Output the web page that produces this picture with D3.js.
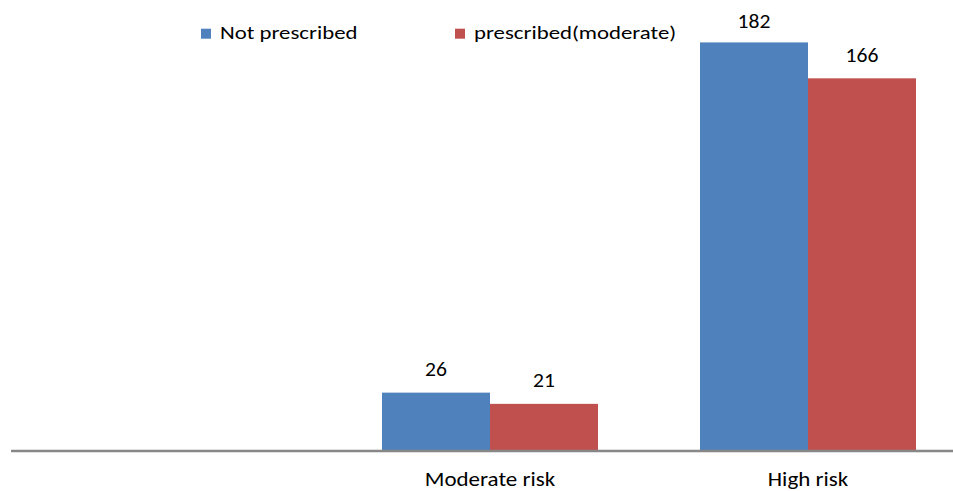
<!DOCTYPE html>
<html>
<head>
<meta charset="utf-8">
<script src="https://cdn.jsdelivr.net/npm/d3@7"></script>
<style>
  html, body { margin: 0; padding: 0; background: #fff; }
  svg { display: block; }
  text { font-family: Carlito, Lato, "Open Sans", sans-serif; fill: #000; }
</style>
</head>
<body>
<svg id="chart" width="953" height="491"></svg>
<script>
// Risk categories (the first group carries no label and no bars)
const categories = ["", "Moderate risk", "High risk"];
const seriesNames = ["Not prescribed", "prescribed(moderate)"];
const notPrescribed = [null, 26, 182];
const prescribedModerate = [null, 21, 166];
const seriesColors = ["#4F81BD", "#C0504D"];
const yMax = 200;

const svg = d3.select("#chart");
const W = 953, H = 491;
const baseY = 451;

const x = d3.scaleBand()
  .domain(categories.map((c, i) => i))
  .range([13, 967])
  .paddingInner(0.3208)
  .paddingOuter(0.1604);

const xs = d3.scaleBand()
  .domain([0, 1])
  .range([0, x.bandwidth()]);

const y = d3.scaleLinear().domain([0, yMax]).range([baseY, 2]);

const series = [notPrescribed, prescribedModerate];

// bars
const groups = svg.append("g").selectAll("g")
  .data(series)
  .join("g")
  .attr("fill", (d, i) => seriesColors[i]);

groups.each(function (vals, si) {
  const g = d3.select(this);
  const pts = vals.map((v, ci) => ({ v, ci })).filter(d => d.v != null);
  g.selectAll("rect")
    .data(pts)
    .join("rect")
    .attr("x", d => x(d.ci) + xs(si))
    .attr("y", d => y(d.v))
    .attr("width", xs.bandwidth())
    .attr("height", d => baseY - y(d.v));
  // value labels above the bars, kept inside the top edge
  g.selectAll("text")
    .data(pts)
    .join("text")
    .attr("text-anchor", "middle")
    .attr("font-size", 20)
    .attr("transform", d => {
      const cx = x(d.ci) + xs(si) + xs.bandwidth() / 2;
      const by = Math.max(y(d.v) - 16.7, 28.3);
      return `translate(${cx},${by}) scale(1.08,1)`;
    })
    .text(d => d.v);
});

// category axis
const axis = svg.append("g").attr("transform", `translate(0,${baseY})`)
  .call(d3.axisBottom(x).tickSize(0).tickFormat(i => categories[i]));
axis.select(".domain").remove();
axis.append("line")
  .attr("x1", 11).attr("x2", W)
  .attr("y1", 0).attr("y2", 0)
  .attr("stroke", "#878787").attr("stroke-width", 2.5);
axis.selectAll(".tick text")
  .attr("x", null)
  .attr("y", null)
  .attr("dy", null)
  .attr("transform", "translate(0,35.3) scale(1.15,1)")
  .attr("font-size", 20)
  .attr("fill", "#000")
  .style("font-family", "Carlito, Lato, 'Open Sans', sans-serif");

// legend
const legendX = [201, 455];
const lg = svg.append("g").selectAll("g")
  .data(seriesNames)
  .join("g")
  .attr("transform", (d, i) => `translate(${legendX[i]},0)`);
lg.append("rect")
  .attr("x", 0).attr("y", 28.7)
  .attr("width", 10).attr("height", 10)
  .attr("fill", (d, i) => seriesColors[i]);
lg.append("text")
  .attr("transform", "translate(19,38.7) scale(1.2,1)")
  .attr("font-size", 19)
  .text(d => d);
</script>
</body>
</html>
